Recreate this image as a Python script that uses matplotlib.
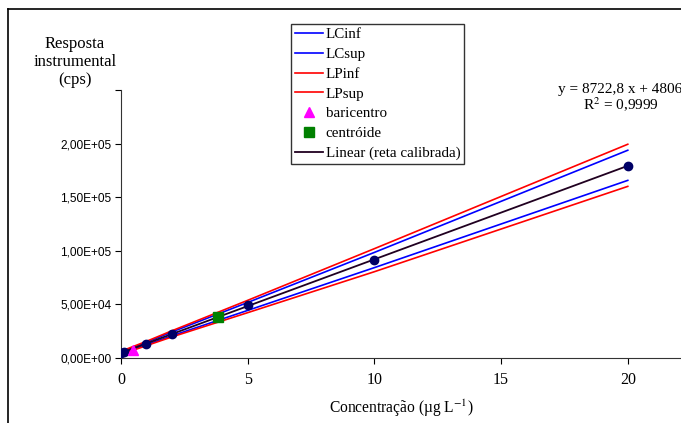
import numpy as np
import matplotlib.pyplot as plt
from matplotlib.lines import Line2D

plt.rcParams['mathtext.fontset'] = 'stix'

# calibration data
conc = [0, 0.1, 1, 2, 5, 10, 20]
resp = [4700, 5300, 13100, 22200, 49900, 91800, 179300]

# band lines (at the calibration levels)
band_x = [0, 1, 2, 5, 10, 20]
lc_inf = [4000, 12300, 20600, 44400, 84300, 165700]
lc_sup = [5600, 14700, 24200, 51800, 98500, 193800]
lp_inf = [3300, 11500, 19600, 42300, 80500, 160100]
lp_sup = [6300, 15500, 25300, 53800, 102000, 199400]

fit_x = [0, 20]
slope, intercept = 8722.8, 4806

bari_x, bari_y = [0.47], [7500]
centr_x, centr_y = [3.83], [38300]

yticks = [0, 50000, 100000, 150000, 200000, 250000]
ylabels = ['0,00E+00', '5,00E+04', '1,00E+05', '1,50E+05', '2,00E+05', '']
xticks = [0, 5, 10, 15, 20]

serif = 'Liberation Serif'
sans = 'Liberation Sans'

fig = plt.figure(figsize=(6.81, 4.23), dpi=100)
ax = fig.add_axes([121/681, 1 - 358/423, 1 - 121/681, (358 - 90)/423])

# figure frame (cut off at the right and bottom)
fig.add_artist(Line2D([8/681, 1], [1 - 9/423, 1 - 9/423], color='black', lw=1.2, transform=fig.transFigure))
fig.add_artist(Line2D([8/681, 8/681], [0, 1 - 9/423], color='black', lw=1.2, transform=fig.transFigure))

ax.plot(band_x, lc_inf, color='#0000ff', lw=1.2, label='LCinf')
ax.plot(band_x, lc_sup, color='#0000ff', lw=1.2, label='LCsup')
ax.plot(band_x, lp_inf, color='#ff0000', lw=1.2, label='LPinf')
ax.plot(band_x, lp_sup, color='#ff0000', lw=1.2, label='LPsup')
ax.plot(conc, resp, 'o', color='#000066', ms=6, zorder=5)
ax.plot(bari_x, bari_y, '^', color='#ff00ff', ms=7, ls='none', label='baricentro', zorder=6)
ax.plot(centr_x, centr_y, 's', color='#008000', ms=7, ls='none', label='centróide', zorder=6)
fx = np.array(fit_x)
ax.plot(fx, slope * fx + intercept, color='#200020', lw=1.3, label='Linear (reta calibrada)', zorder=4)

ax.set_xlim(0, 22.1)
ax.set_ylim(0, 250000)
ax.set_xticks(xticks)
ax.set_xticklabels([str(t) for t in xticks], family=serif, fontsize=11.5)
ax.set_yticks(yticks)
ax.set_yticklabels(ylabels, family=sans, fontsize=8.6)
ax.tick_params(direction='out', length=4, width=0.8, pad=3)
ax.tick_params(axis='x', pad=6)
for s in ['top', 'right']:
    ax.spines[s].set_visible(False)
ax.spines['left'].set_color('#333333')
ax.spines['bottom'].set_color('#333333')

ax.set_xlabel('Concentração (µg L$^{-1}$)', family=serif, fontsize=11.2, labelpad=7)
fig.text(75/681, 1 - 62/423, 'Resposta\ninstrumental\n(cps)', family=serif, fontsize=12,
         ha='center', va='center', linespacing=1.2)

fig.text(682/681, 1 - 90/423, 'y = 8722,8 x + 4806', family=serif, fontsize=11, ha='right', va='center')
fig.text(621/681, 1 - 105/423, 'R$^2$ = 0,9999', family=serif, fontsize=11, ha='center', va='center')

leg = ax.legend(loc='upper left', bbox_to_anchor=(291/681, 1 - 24/423), bbox_transform=fig.transFigure,
                prop={'family': serif, 'size': 10.8}, frameon=True, fancybox=False, edgecolor='black',
                handlelength=1.9, handletextpad=0.15, borderpad=0.25, labelspacing=0.42, borderaxespad=0)
leg.get_frame().set_linewidth(1.0)

fig.savefig('out.png', dpi=100)
